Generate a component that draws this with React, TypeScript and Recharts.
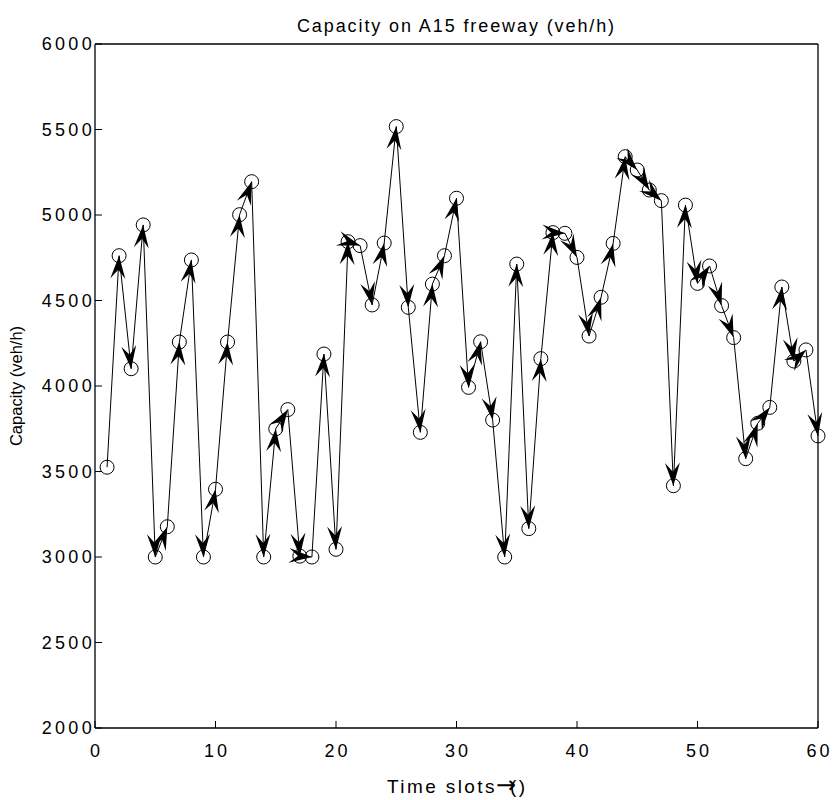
import { LineChart, Line, XAxis, YAxis } from "recharts"

const slots = [
  1, 2, 3, 4, 5, 6, 7, 8, 9, 10, 11, 12, 13, 14, 15, 16, 17, 18, 19, 20,
  21, 22, 23, 24, 25, 26, 27, 28, 29, 30, 31, 32, 33, 34, 35, 36, 37, 38, 39, 40,
  41, 42, 43, 44, 45, 46, 47, 48, 49, 50, 51, 52, 53, 54, 55, 56, 57, 58, 59, 60,
]
const capacity = [
  3525, 4762, 4101, 4942, 3000, 3177, 4257, 4737, 3000, 3396,
  4257, 5002, 5195, 3000, 3750, 3862, 3005, 3000, 4187, 3045,
  4844, 4821, 4474, 4836, 5517, 4460, 3729, 4596, 4762, 5098,
  3992, 4259, 3801, 3000, 4713, 3166, 4160, 4897, 4893, 4752,
  4292, 4519, 4834, 5341, 5263, 5146, 5084, 3417, 5058, 4600,
  4702, 4470, 4283, 3575, 3782, 3875, 4579, 4146, 4211, 3708,
]
const xTicks = [0, 10, 20, 30, 40, 50, 60]
const yTicks = [2000, 2500, 3000, 3500, 4000, 4500, 5000, 5500, 6000]
const chartTitle = "Capacity on A15 freeway (veh/h)"
const xTitle = "Time slots"
const yTitle = "Capacity (veh/h)"

const data = slots.map((t, i) => ({ t, cap: capacity[i] }))

const FONT = "'Liberation Sans', Arial, Helvetica, sans-serif"
const TICK_LEN = 7
const X_TICK_GAP = 16

// screen positions of dots drawn so far (fallback if `points` isn't passed to the dot)
const drawn: { x: number; y: number }[] = []

function ArrowDot(props: any) {
  const { cx, cy, index, points } = props
  if (cx == null || cy == null) return <g key={`d-${index}`} />
  drawn[index] = { x: cx, y: cy }
  const prev = index > 0 ? (points && points[index - 1]) || drawn[index - 1] : null
  let head = null
  if (prev) {
    const dx = cx - prev.x
    const dy = cy - prev.y
    const len = Math.hypot(dx, dy) || 1
    const ux = dx / len
    const uy = dy / len
    const L = 23
    const W = 7.5
    const N = 14
    const pts = [
      [cx, cy],
      [cx - L * ux - W * uy, cy - L * uy + W * ux],
      [cx - N * ux, cy - N * uy],
      [cx - L * ux + W * uy, cy - L * uy - W * ux],
    ]
      .map((p) => p.join(","))
      .join(" ")
    head = <polygon points={pts} fill="#000" />
  }
  return (
    <g key={`d-${index}`}>
      <circle cx={cx} cy={cy} r={7} fill="none" stroke="#000" strokeWidth={1} />
      {head}
    </g>
  )
}

function BottomTick({ x, y, payload }: any) {
  const axisY = y - X_TICK_GAP
  return (
    <g>
      <line x1={x} y1={axisY} x2={x} y2={axisY - TICK_LEN} stroke="#000" />
      <text x={x + 1.5} y={y} dy="0.71em" textAnchor="middle" fontSize={18} letterSpacing={3} fontFamily={FONT} fill="#000">
        {payload.value}
      </text>
    </g>
  )
}

function LeftTick({ x, y, payload }: any) {
  return (
    <g>
      <line x1={x} y1={y} x2={x + TICK_LEN} y2={y} stroke="#000" />
      <text x={x} y={y} dy="0.36em" textAnchor="end" fontSize={18} letterSpacing={3.3} fontFamily={FONT} fill="#000">
        {payload.value}
      </text>
    </g>
  )
}

function XTitle({ viewBox }: any) {
  const { x, y } = viewBox
  return (
    <text x={x + 292} y={y + 65} fontSize={19} letterSpacing={2.4} fontFamily={FONT} fill="#000">
      {xTitle}
      <tspan fontFamily="'DejaVu Sans'" fontSize={24} letterSpacing={0} dx={-1}>→</tspan>
      <tspan dx={-6}>()</tspan>
    </text>
  )
}

function YTitle({ viewBox }: any) {
  const { x, y, height } = viewBox
  const cx = x + 22
  const cy = y + height / 2
  return (
    <text x={cx} y={cy} transform={`rotate(-90, ${cx}, ${cy})`} textAnchor="middle" fontSize={16.5} fontFamily={FONT} fill="#000">
      {yTitle}
    </text>
  )
}

export default function App() {
  return (
    <div style={{ position: "absolute", left: 0, top: 0, width: 834, height: 800, background: "#fff" }}>
      <div
        style={{
          position: "absolute",
          top: 16.5,
          left: 95,
          width: 723,
          textAlign: "center",
          fontFamily: FONT,
          fontSize: 18,
          lineHeight: "18px",
          letterSpacing: 1.9,
          color: "#000",
        }}
      >
        {chartTitle}
      </div>
      <LineChart width={834} height={800} data={data} margin={{ top: 44, right: 16, left: 0, bottom: 0 }}>
        <XAxis
          dataKey="t"
          type="number"
          domain={[0, 60]}
          ticks={xTicks}
          tickSize={0}
          tickMargin={X_TICK_GAP}
          tickLine={false}
          axisLine={{ stroke: "#000", strokeWidth: 1.3 }}
          tick={<BottomTick />}
          height={72}
          label={<XTitle />}
        />
        <XAxis
          xAxisId="top"
          orientation="top"
          mirror
          type="number"
          domain={[0, 60]}
          ticks={xTicks}
          tick={false}
          tickSize={TICK_LEN}
          tickLine={{ stroke: "#000" }}
          axisLine={{ stroke: "#000", strokeWidth: 1.3 }}
        />
        <YAxis
          type="number"
          domain={[2000, 6000]}
          ticks={yTicks}
          tickSize={0}
          tickMargin={0}
          tickLine={false}
          axisLine={{ stroke: "#000", strokeWidth: 1.3 }}
          tick={<LeftTick />}
          width={95}
          label={<YTitle />}
        />
        <YAxis
          yAxisId="right"
          orientation="right"
          mirror
          type="number"
          domain={[2000, 6000]}
          ticks={yTicks}
          tick={false}
          tickSize={TICK_LEN}
          tickLine={{ stroke: "#000" }}
          axisLine={{ stroke: "#000", strokeWidth: 1.3 }}
        />
        <Line
          dataKey="cap"
          stroke="#000"
          strokeWidth={1}
          dot={ArrowDot}
          activeDot={false}
          isAnimationActive={false}
        />
      </LineChart>
    </div>
  )
}
